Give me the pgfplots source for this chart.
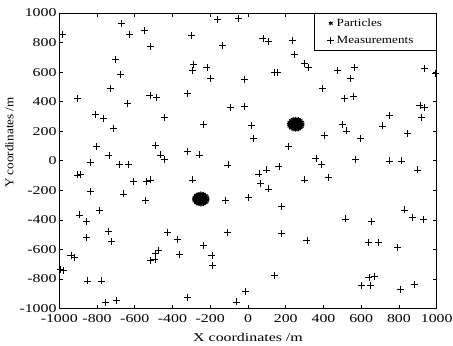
\documentclass[border=0pt]{standalone}
\usepackage{fontspec}
\setmainfont{Liberation Serif}[FakeStretch=1.33]
\newfontfamily\ylabfont{Liberation Serif}[FakeStretch=1.1]
\newfontfamily\legfont{Liberation Serif}[FakeStretch=1.2]
\usepackage{pgfplots}
\pgfplotsset{compat=1.18}
\begin{document}
\begin{tikzpicture}
\begin{axis}[
  scale only axis,
  width=377.4bp, height=295.5bp,
  xmin=-1000, xmax=1000, ymin=-1000, ymax=1000,
  xtick={-1000,-800,...,1000}, ytick={-1000,-800,...,1000},
  /pgf/number format/assume math mode=true,
  /pgf/number format/1000 sep={},
  tick align=inside,
  major tick length=4bp,
  tick style={black, line width=0.6bp},
  axis line style={black, line width=0.8bp},
  every tick label/.append style={inner sep=0pt, font=\fontsize{12}{14}\selectfont},
  xticklabel style={yshift=-6bp},
  yticklabel style={xshift=-2.5bp},
  xlabel={X coordinates /m},
  ylabel={Y coordinates /m},
  xlabel style={at={(axis description cs:0.5,-0.1117)}, anchor=base, inner sep=0pt, font=\fontsize{12}{14}\selectfont},
  ylabel style={at={(axis description cs:-0.1214,0.5618)}, anchor=base, inner sep=0pt, font=\ylabfont\fontsize{12}{14}\selectfont},
  legend cell align=left,
  legend image code/.code={\path (-16bp,0bp) (3.5bp,0bp); \draw[#1] plot coordinates {(0bp,0bp)};},
  legend style={at={(1,1)}, anchor=north east, draw=black, line width=0.6bp,
    font=\legfont\fontsize{11}{13}\selectfont,
    inner xsep=0bp, inner ysep=3bp, row sep=3bp,
    nodes={inner sep=2bp, text height=8bp, text depth=2bp}},
]
\addplot[only marks, mark=asterisk, mark size=2.2bp, line width=0.9bp, black] coordinates {
(253,247)
(265,247) (259,257) (247,257) (241,247) (247,237) (259,237)
(277,247) (274,259) (265,268) (253,271) (241,268) (232,259) (229,247) (232,235) (241,226) (253,223) (265,226) (274,235)
(289,247) (286,261) (278,272) (267,280) (253,283) (239,280) (228,272) (220,261) (217,247) (220,233) (228,222) (239,214) (253,211) (267,214) (278,222) (286,233)
(-250,-259)
(-238,-259) (-244,-249) (-256,-249) (-262,-259) (-256,-269) (-244,-269)
(-226,-259) (-229,-247) (-238,-238) (-250,-235) (-262,-238) (-271,-247) (-274,-259) (-271,-271) (-262,-280) (-250,-283) (-238,-280) (-229,-271)
(-214,-259) (-217,-245) (-225,-234) (-236,-226) (-250,-223) (-264,-226) (-275,-234) (-283,-245) (-286,-259) (-283,-273) (-275,-284) (-264,-292) (-250,-295) (-236,-292) (-225,-284) (-217,-273)
};
\addlegendentry{Particles}
\addplot[only marks, mark=+, mark size=3.5bp, line width=0.7bp, black] coordinates {
(-982,857) (-671,928) (-627,857) (-550,880) (-516,774) (-703,688) (-676,586) (-730,487)
(-902,424) (-639,390) (-520,442) (-484,428) (-808,315) (-764,288) (-712,220) (-444,293)
(-804,96) (-490,101)
(-161,955) (-49,962) (-301,849) (-134,781) (79,830) (106,808) (237,812) (246,718)
(301,661) (-287,654) (-294,611) (-218,632) (-198,559) (-19,553) (138,598) (156,598)
(-323,458) (-95,360) (-17,365) (-236,243) (17,238) (29,152) (212,96)
(319,632) (476,609) (564,632) (543,559) (934,623) (995,593) (396,487) (511,424)
(559,435) (911,372) (934,360) (748,306) (920,293) (502,247) (712,236) (520,202)
(404,171) (596,153) (845,184)
(-737,35) (-835,-12) (-680,-24) (-634,-24) (-906,-96) (-888,-92) (-605,-141) (-538,-141)
(-516,-130) (-835,-209) (-662,-225) (-543,-270) (-463,39) (-445,10) (-787,-338) (-893,-367)
(-854,-413) (-739,-480) (-723,-548) (-854,-521) (-428,-485) (-938,-639) (-920,-657)
(-476,-605) (-490,-630) (-516,-672) (-493,-668) (-995,-733) (-977,-740) (-849,-813) (-778,-813)
(-319,62) (-259,39) (-106,-28) (-294,-130) (58,-89) (99,-62) (164,-40) (67,-153)
(106,-191) (298,-130) (-118,-266) (1,-250) (177,-311) (-374,-530) (-111,-485) (177,-492)
(-236,-571) (-365,-634) (-191,-643) (-188,-706) (140,-774) (-13,-887) (312,-541)
(360,17) (390,-24) (426,-114) (568,10) (748,-1) (813,-1) (899,-62) (831,-333)
(870,-383) (931,-397) (516,-394) (653,-412) (639,-555) (689,-555) (790,-589) (641,-792)
(671,-781) (600,-846) (650,-842) (808,-869) (881,-835)
(-755,-959) (-698,-943) (-321,-925) (-63,-955)
};
\addlegendentry{Measurements\hspace*{21bp}}
\end{axis}
\pgfresetboundingbox
\path[use as bounding box] ([shift={(-59.3bp,-37.5bp)}]current axis.south west) rectangle ([shift={(16.3bp,13bp)}]current axis.north east);
\end{tikzpicture}
\end{document}
